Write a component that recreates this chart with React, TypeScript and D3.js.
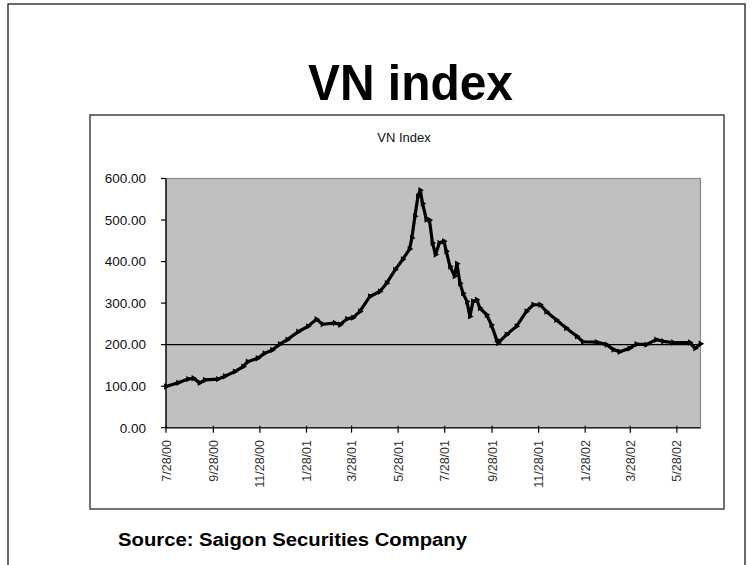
import React from "react";
import * as d3 from "d3";

const dates: string[] = [
  "2000-07-28","2000-08-13","2000-08-26","2000-09-02","2000-09-10","2000-09-17","2000-10-04","2000-10-13",
  "2000-10-26","2000-11-06","2000-11-12","2000-11-25","2000-12-04","2000-12-14","2000-12-24","2001-01-03",
  "2001-01-17","2001-01-30","2001-02-10","2001-02-18","2001-03-06","2001-03-13","2001-03-22","2001-03-30",
  "2001-04-08","2001-04-21","2001-05-04","2001-05-13","2001-05-24","2001-06-03","2001-06-12","2001-06-15",
  "2001-06-19","2001-06-23","2001-06-26","2001-06-29","2001-07-04","2001-07-08","2001-07-12","2001-07-16",
  "2001-07-21","2001-07-27","2001-07-30","2001-08-04","2001-08-10","2001-08-13","2001-08-17","2001-08-21",
  "2001-08-26","2001-08-30","2001-09-03","2001-09-08","2001-09-12","2001-09-21","2001-09-27","2001-10-04",
  "2001-10-06","2001-10-17","2001-10-30","2001-11-12","2001-11-21","2001-11-30","2001-12-08","2001-12-21",
  "2002-01-03","2002-01-17","2002-01-25","2002-02-12","2002-02-25","2002-03-06","2002-03-14","2002-03-27",
  "2002-04-05","2002-04-18","2002-05-01","2002-05-10","2002-05-23","2002-06-14","2002-06-21","2002-06-28",
];

const values: number[] = [
  99,108,117,119,108,115,117,124,
  135,147,159,167,179,187,201,212,
  231,244,261,249,252,248,262,265,
  280,316,328,348,380,405,430,457,
  509,557,572,540,501,500,445,417,
  445,449,425,388,365,395,348,324,
  304,268,304,308,288,272,248,212,
  204,224,244,280,296,296,280,260,
  240,220,207,206,200,188,183,191,
  201,200,212,208,205,205,191,202,
];

const yTicks: number[] = [0, 100, 200, 300, 400, 500, 600];
const xTickLabels: string[] = [
  "7/28/00","9/28/00","11/28/00","1/28/01","3/28/01","5/28/01",
  "7/28/01","9/28/01","11/28/01","1/28/02","3/28/02","5/28/02",
];
const referenceLevel = 200;
const title = "VN index";
const chartTitle = "VN Index";
const source = "Source: Saigon Securities Company";

const parse = d3.timeParse("%Y-%m-%d");
const parseTick = d3.timeParse("%m/%d/%y");

export default function App() {
  const W = 753, H = 565;
  const pl = 166, pr = 700.5, pt = 178.5, pb = 427.7;
  const x = d3.scaleTime()
    .domain([parse("2000-07-28") as Date, parse("2002-06-28") as Date])
    .range([pl, pr]);
  const y = d3.scaleLinear().domain([0, 600]).range([pb, pt]);
  const pts = dates.map((d, i) => ({ d: parse(d) as Date, v: values[i] }));
  const line = d3.line<{ d: Date; v: number }>().x(p => x(p.d)).y(p => y(p.v));
  const tri = d3.symbol().type(d3.symbolTriangle).size(18);
  const font = "Arial, 'Liberation Sans', sans-serif";

  return (
    <svg width={W} height={H} style={{ position: "absolute", left: 0, top: 0, background: "#fff" }}>
      <path d={`M8,${H} L8,4 L745,4 L745,${H}`} fill="none" stroke="#3a3a3a" strokeWidth={1.5} />
      <text x={410.5} y={100} textAnchor="middle" fontFamily={font} fontWeight="bold" fontSize={50}
        textLength={205} lengthAdjust="spacingAndGlyphs" fill="#000">{title}</text>
      <rect x={90} y={115} width={634} height={394} fill="#fff" stroke="#444" strokeWidth={1.5} />
      <text x={404} y={142} textAnchor="middle" fontFamily={font} fontSize={13} fill="#111">{chartTitle}</text>
      <rect x={pl} y={pt} width={pr - pl} height={pb - pt} fill="#c0c0c0" stroke="#8a8a8a" strokeWidth={1.2} />
      <line x1={pl} x2={pr} y1={y(referenceLevel)} y2={y(referenceLevel)} stroke="#000" strokeWidth={1.4} />
      <line x1={pl} x2={pl} y1={pt} y2={pb} stroke="#000" strokeWidth={1.3} />
      <line x1={pl} x2={pr} y1={pb} y2={pb} stroke="#222" strokeWidth={1.5} />
      {yTicks.map(t => (
        <g key={t}>
          <line x1={pl - 5} x2={pl} y1={y(t)} y2={y(t)} stroke="#000" strokeWidth={1.2} />
          <text x={146} y={y(t)} dy="0.36em" textAnchor="end" fontFamily={font} fontSize={13.5} fill="#111">
            {t.toFixed(2)}
          </text>
        </g>
      ))}
      {xTickLabels.map(l => {
        const xx = x(parseTick(l) as Date);
        return (
          <g key={l}>
            <line x1={xx} x2={xx} y1={pb - 2} y2={pb + 5} stroke="#000" strokeWidth={1.2} />
            <text transform={`translate(${xx},440) rotate(-90)`} dy="0.36em" textAnchor="end"
              fontFamily={font} fontSize={12.5} fill="#333">{l}</text>
          </g>
        );
      })}
      <path d={line(pts) || ""} fill="none" stroke="#000" strokeWidth={3.2} strokeLinejoin="round" />
      {pts.map((p, i) => (
        <path key={i} d={tri() || ""} transform={`translate(${x(p.d)},${y(p.v)}) rotate(90)`} fill="#000" />
      ))}
      <text x={118} y={546} fontFamily={font} fontWeight="bold" fontSize={18}
        textLength={349} lengthAdjust="spacingAndGlyphs" fill="#000">{source}</text>
    </svg>
  );
}
